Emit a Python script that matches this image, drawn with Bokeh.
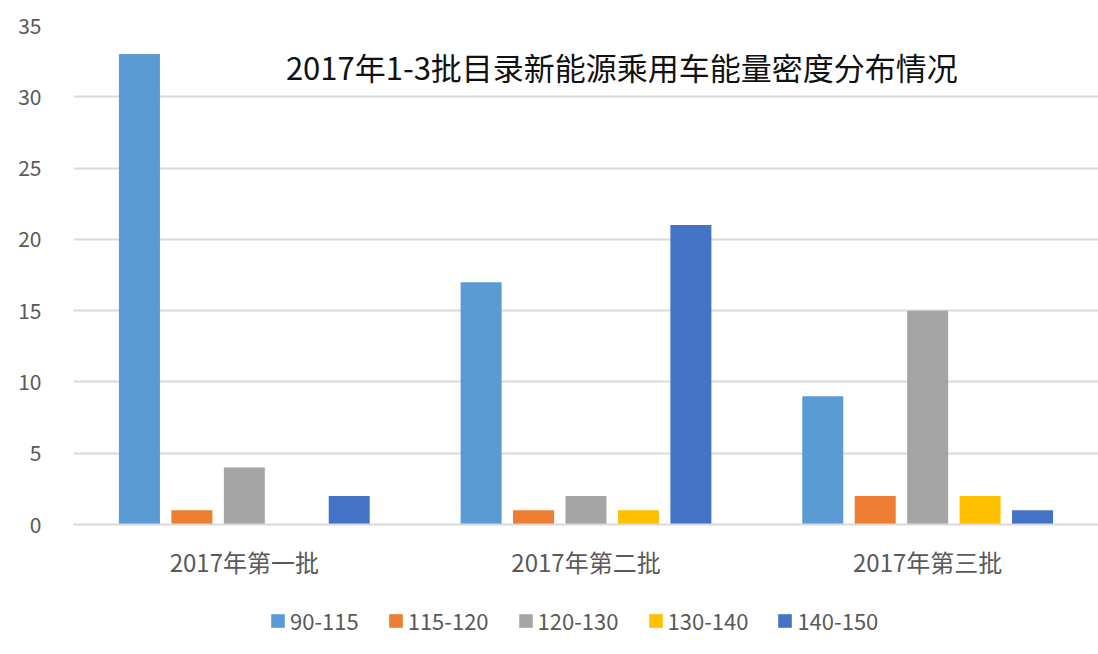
from bokeh.plotting import figure
from bokeh.layouts import column
from bokeh.models import ColumnDataSource, Legend, LegendItem, Label, FixedTicker, Range1d
from bokeh.transform import dodge
from bokeh.embed import file_html
from bokeh.resources import INLINE

categories = ["2017年第一批", "2017年第二批", "2017年第三批"]
series_names = ["90-115", "115-120", "120-130", "130-140", "140-150"]
s_90_115 = [33, 17, 9]
s_115_120 = [1, 1, 2]
s_120_130 = [4, 2, 15]
s_130_140 = [0, 1, 2]
s_140_150 = [2, 21, 1]
y_ticks = [0, 5, 10, 15, 20, 25, 30, 35]
title_text = "2017年1-3批目录新能源乘用车能量密度分布情况"

colors = ["#5B9BD5", "#ED7D31", "#A5A5A5", "#FFC000", "#4472C4"]
series = [s_90_115, s_115_120, s_120_130, s_130_140, s_140_150]

data = {"cat": categories}
for i, s in enumerate(series):
    data[f"s{i}"] = s
source = ColumnDataSource(data)

FONT = "Noto Sans CJK SC"
TXT = "#595959"

p = figure(x_range=categories, y_range=Range1d(0, 35), width=1098, height=590,
           output_backend="svg", toolbar_location=None,
           min_border_left=73, min_border_right=0, min_border_top=25, min_border_bottom=66)
p.outline_line_color = None
p.background_fill_color = "white"
p.border_fill_color = "white"

pitch = 0.1535
bw = 0.12
for i, name in enumerate(series_names):
    p.vbar(x=dodge("cat", (i - 2) * pitch, range=p.x_range), top=f"s{i}", width=bw,
           source=source, fill_color=colors[i], line_color=None)

p.xgrid.grid_line_color = None
p.ygrid.grid_line_color = "#D9D9D9"
p.ygrid.grid_line_width = 2
p.yaxis.ticker = FixedTicker(ticks=y_ticks)
p.yaxis.axis_line_color = None
p.yaxis.major_tick_line_color = None
p.yaxis.minor_tick_line_color = None
p.yaxis.major_label_text_font = FONT
p.yaxis.major_label_text_font_size = "21px"
p.yaxis.major_label_text_color = TXT
p.yaxis.major_label_standoff = 26

p.xaxis.axis_line_color = "#D9D9D9"
p.xaxis.axis_line_width = 2
p.xaxis.major_tick_line_color = None
p.xaxis.minor_tick_line_color = None
p.xaxis.major_label_text_font = FONT
p.xaxis.major_label_text_font_size = "24px"
p.xaxis.major_label_text_color = TXT
p.xaxis.major_label_standoff = 13

title = Label(x=1.605, y=32.1, text=title_text, text_align="center", text_baseline="middle",
              text_font=FONT, text_font_size="31px", text_color="#111111")
p.add_layout(title)

# legend strip (frame aligned with the main plot's frame by the column layout)
lg = figure(width=1098, height=64, output_backend="svg", toolbar_location=None,
            x_axis_location=None, y_axis_location=None, min_border=0,
            x_range=Range1d(0, 1), y_range=Range1d(0, 1))
lg.outline_line_color = None
lg.xgrid.grid_line_color = None
lg.ygrid.grid_line_color = None
items = []
for i, name in enumerate(series_names):
    r = lg.vbar(x=[-1.0], top=[0.0], width=0.1, fill_color=colors[i], line_color=None)
    items.append(LegendItem(label=name, renderers=[r]))
legend = Legend(items=items, orientation="horizontal", location=(196, 18),
                label_text_font=FONT, label_text_font_size="22px", label_text_color=TXT,
                glyph_width=17, glyph_height=17, spacing=28, label_standoff=4,
                border_line_color=None, background_fill_alpha=0, padding=0, margin=0)
lg.add_layout(legend)

layout = column(p, lg, spacing=0)
open("out.html", "w").write(file_html(layout, INLINE))
